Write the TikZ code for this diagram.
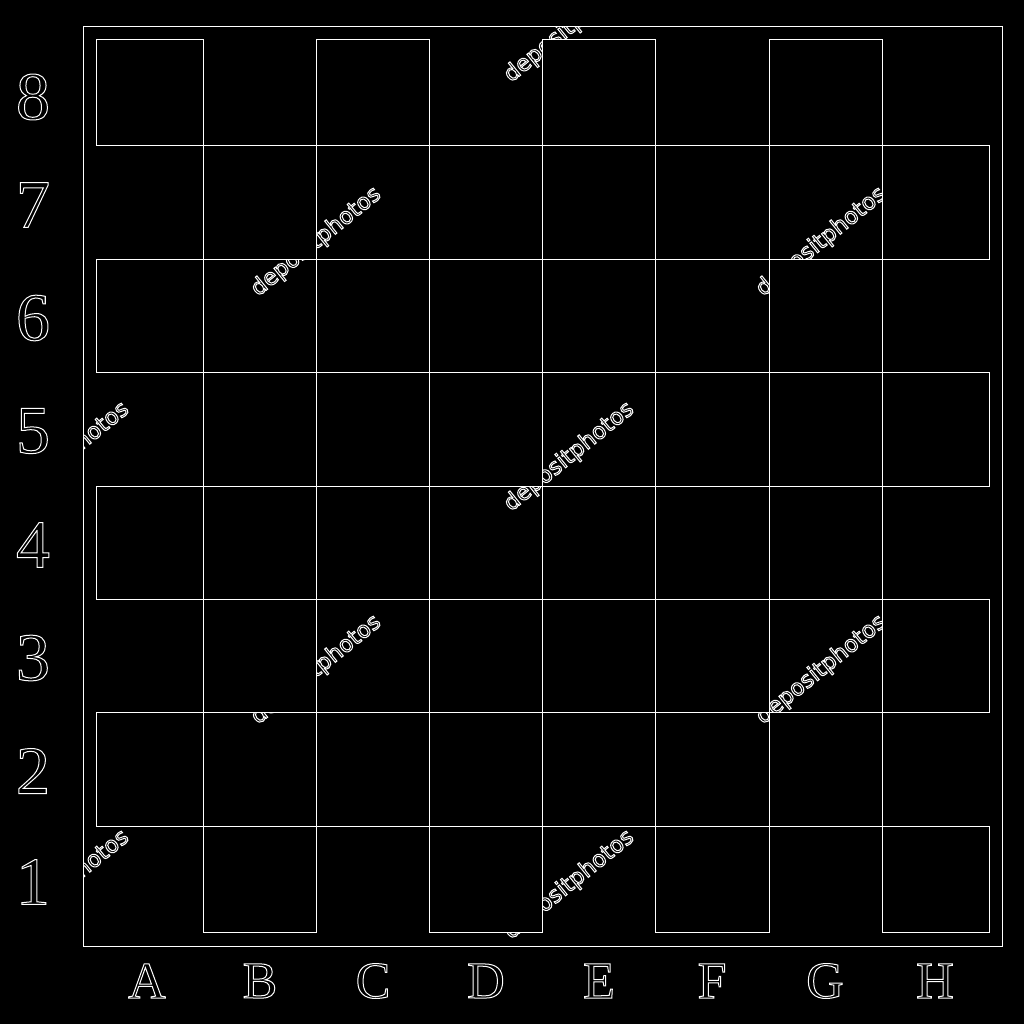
\documentclass[tikz,border=0pt]{standalone}
\usepackage{fontspec}
\setmainfont{Liberation Serif}
\newfontfamily\wmfont{DejaVu Sans}
\newcommand\outlinetext[1]{\special{pdf:literal direct 1 Tr 1 w}#1\special{pdf:literal direct 0 Tr}}
\tikzset{
  sq/.style={draw=white, line width=1pt},
  frame/.style={draw=white, line width=1pt},
  rank/.style={text=white, font=\fontsize{68}{68}\selectfont, inner sep=0pt},
  file/.style={text=white, font=\fontsize{52}{52}\selectfont, inner sep=0pt},
  wm/.style={text=white, font=\wmfont\fontsize{22.5}{22.5}\selectfont, inner sep=0pt, rotate=39, anchor=base west},
}
\begin{document}
\begin{tikzpicture}[x=1pt,y=-1pt]
\fill[black] (0,0) rectangle (1024,1024);
\useasboundingbox (0,0) rectangle (1024,1024);
% light squares
\draw[sq]
  foreach \ya/\yb in {40/146,259/372,486/599,712/826} {
    foreach \xa/\xb in {96/203,316/429,542/655,769/882} { (\xa,\ya) rectangle (\xb,\yb) } }
  foreach \ya/\yb in {146/259,372/486,599/712,826/932} {
    foreach \xa/\xb in {203/316,429/542,655/769,882/989} { (\xa,\ya) rectangle (\xb,\yb) } };
% frame
\draw[frame] (83,27) rectangle (1002,946);
% watermark, visible on dark squares and frame border
\begin{scope}[even odd rule]
\clip (83,27) rectangle (1002,946)
  foreach \ya/\yb in {40/146,259/372,486/599,712/826} {
    foreach \xa/\xb in {96/203,316/429,542/655,769/882} { (\xa,\ya) rectangle (\xb,\yb) } }
  foreach \ya/\yb in {146/259,372/486,599/712,826/932} {
    foreach \xa/\xb in {203/316,429/542,655/769,882/989} { (\xa,\ya) rectangle (\xb,\yb) } };
\node[wm] (w1) at (6,83) {\outlinetext{depositphotos}};
\node[wm] (w2) at (6,512) {\outlinetext{depositphotos}};
\node[wm] (w3) at (6,940) {\outlinetext{depositphotos}};
\node[wm] (w4) at (511,83) {\outlinetext{depositphotos}};
\node[wm] (w5) at (511,512) {\outlinetext{depositphotos}};
\node[wm] (w6) at (511,940) {\outlinetext{depositphotos}};
\node[wm] (w7) at (258,297) {\outlinetext{depositphotos}};
\node[wm] (w8) at (258,725) {\outlinetext{depositphotos}};
\node[wm] (w9) at (763,297) {\outlinetext{depositphotos}};
\node[wm] (w10) at (763,725) {\outlinetext{depositphotos}};
\end{scope}
% rank labels
\node[rank] (r8) at (33,97) {\outlinetext{8}};
\node[rank] (r7) at (33,205) {\outlinetext{7}};
\node[rank] (r6) at (33,318) {\outlinetext{6}};
\node[rank] (r5) at (33,431) {\outlinetext{5}};
\node[rank] (r4) at (33,545) {\outlinetext{4}};
\node[rank] (r3) at (33,658) {\outlinetext{3}};
\node[rank] (r2) at (33,771) {\outlinetext{2}};
\node[rank] (r1) at (33,882) {\outlinetext{1}};
% file labels
\node[file] (fa) at (147,981) {\outlinetext{A}};
\node[file] (fb) at (260,981) {\outlinetext{B}};
\node[file] (fc) at (373,981) {\outlinetext{C}};
\node[file] (fd) at (486,981) {\outlinetext{D}};
\node[file] (fe) at (599,981) {\outlinetext{E}};
\node[file] (ff) at (712,981) {\outlinetext{F}};
\node[file] (fg) at (825,981) {\outlinetext{G}};
\node[file] (fh) at (935,981) {\outlinetext{H}};
\end{tikzpicture}
\end{document}
